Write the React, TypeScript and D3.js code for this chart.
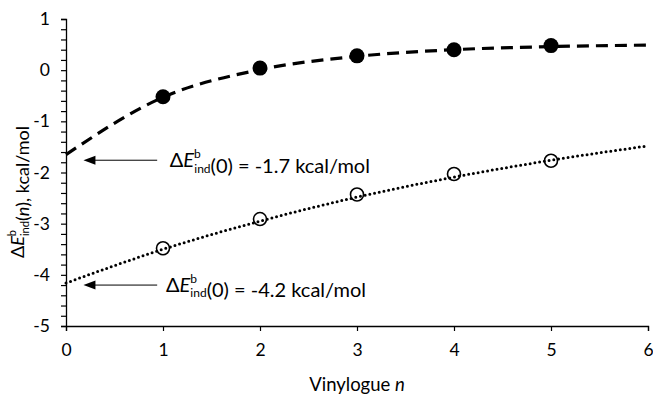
import React, { useEffect, useRef } from 'react';
import * as d3 from 'd3';

// measured points (vinylogue n)
const nValues = [1, 2, 3, 4, 5];
const filledValues = [-0.52, 0.04, 0.28, 0.4, 0.48];
const openValues = [-3.48, -2.91, -2.43, -2.03, -1.77];

// fitted curves
const fitN = [0, 1, 2, 3, 4, 5, 6];
const dashedFit = [-1.65, -0.53, 0.01, 0.27, 0.4, 0.46, 0.49];
const dottedFit = [-4.16, -3.5, -2.95, -2.48, -2.09, -1.76, -1.48];

// arrows pointing at the n = 0 intercepts
const annotY = [-1.76, -4.2];
const annotValues = ['-1.7', '-4.2'];

const xTicks = [0, 1, 2, 3, 4, 5, 6];
const yTicks = [1, 0, -1, -2, -3, -4, -5];

const FONT = 'Lato, "Open Sans", sans-serif';

const App = () => {
    const ref = useRef(null);

    useEffect(() => {
        if (!ref.current) return;
        const width = 653, height = 394;
        const svg = d3.select(ref.current);
        svg.selectAll('*').remove();
        svg.attr('width', width).attr('height', height);

        const x = d3.scaleLinear().domain([0, 6]).range([66, 648]);
        const y = d3.scaleLinear().domain([-5, 1]).range([326, 19]);

        // y axis with minor ticks every 0.2
        const minor = d3.range(-5, 1.0001, 0.2).map(v => Math.round(v * 10) / 10);
        const yAxis = svg.append('g')
            .attr('transform', `translate(${x(0)},0)`)
            .call(d3.axisLeft(y)
                .tickValues(minor)
                .tickSize(5)
                .tickPadding(11)
                .tickFormat(d => (yTicks.includes(d as number) ? String(d) : '')));
        yAxis.select('.domain').attr('stroke-width', 1.3);
        yAxis.selectAll('.tick line').attr('stroke-width', 1.2);
        yAxis.selectAll('text').attr('font-family', FONT).attr('font-size', 17.5).attr('fill', '#000');

        const xAxis = svg.append('g')
            .attr('transform', `translate(0,${y(-5)})`)
            .call(d3.axisBottom(x).tickValues(xTicks).tickSize(5).tickPadding(13).tickFormat(d => String(d)));
        xAxis.select('.domain').attr('stroke-width', 1.3);
        xAxis.selectAll('.tick line').attr('stroke-width', 1.2);
        xAxis.selectAll('text').attr('font-family', FONT).attr('font-size', 17.5).attr('fill', '#000');

        const line = d3.line<number>()
            .x((d, i) => x(fitN[i]))
            .y(d => y(d))
            .curve(d3.curveMonotoneX);

        svg.append('path')
            .attr('d', line(dashedFit))
            .attr('fill', 'none')
            .attr('stroke', '#000')
            .attr('stroke-width', 3.2)
            .attr('stroke-dasharray', '12 7');

        svg.append('path')
            .attr('d', line(dottedFit))
            .attr('fill', 'none')
            .attr('stroke', '#000')
            .attr('stroke-width', 3)
            .attr('stroke-linecap', 'round')
            .attr('stroke-dasharray', '0 4.8');

        svg.selectAll('.filled')
            .data(filledValues)
            .enter()
            .append('circle')
            .attr('cx', (d, i) => x(nValues[i]))
            .attr('cy', d => y(d))
            .attr('r', 7.5)
            .attr('fill', '#000');

        svg.selectAll('.open')
            .data(openValues)
            .enter()
            .append('circle')
            .attr('cx', (d, i) => x(nValues[i]))
            .attr('cy', d => y(d))
            .attr('r', 6.5)
            .attr('fill', 'none')
            .attr('stroke', '#000')
            .attr('stroke-width', 1.6);

        // ΔE with superscript b stacked over subscript ind
        const deltaE = (t, size) => {
            const small = Math.round(size * 0.62);
            t.append('tspan').text('\u0394');
            t.append('tspan').attr('font-style', 'italic').text('E');
            t.append('tspan').attr('font-size', small).attr('dy', -size * 0.45).text('b');
            t.append('tspan').attr('font-size', small).attr('dy', size * 0.72).attr('dx', -small * 0.55).text('ind');
            t.append('tspan').attr('dy', -size * 0.27).text('');
        };

        annotY.forEach((v, i) => {
            const yy = y(v);
            const tipX = x(0.18);
            svg.append('line')
                .attr('x1', tipX + 10).attr('x2', x(0.94))
                .attr('y1', yy).attr('y2', yy)
                .attr('stroke', '#000').attr('stroke-width', 1);
            svg.append('path')
                .attr('d', `M${tipX},${yy}L${tipX + 12},${yy - 4.5}L${tipX + 12},${yy + 4.5}Z`)
                .attr('fill', '#000');
            const t = svg.append('text')
                .attr('x', x(i === 0 ? 1.07 : 1.03))
                .attr('y', yy + 7)
                .attr('font-family', FONT)
                .attr('font-size', 20);
            deltaE(t, 20);
            t.append('tspan').text(`(0) = ${annotValues[i]} kcal/mol`);
        });

        // y title
        const yt = svg.append('text')
            .attr('transform', 'translate(24,192) rotate(-90)')
            .attr('text-anchor', 'middle')
            .attr('font-family', FONT)
            .attr('font-size', 18);
        deltaE(yt, 18);
        yt.append('tspan').text('(');
        yt.append('tspan').attr('font-style', 'italic').text('n');
        yt.append('tspan').text('), kcal/mol');

        // x title
        const xt = svg.append('text')
            .attr('x', (x(0) + x(6)) / 2)
            .attr('y', 391)
            .attr('text-anchor', 'middle')
            .attr('font-family', FONT)
            .attr('font-size', 18.5);
        xt.append('tspan').text('Vinylogue ');
        xt.append('tspan').attr('font-style', 'italic').text('n');
    }, []);

    return <svg ref={ref} style={{ position: 'absolute', left: 0, top: 0 }} />;
};

export default App;
